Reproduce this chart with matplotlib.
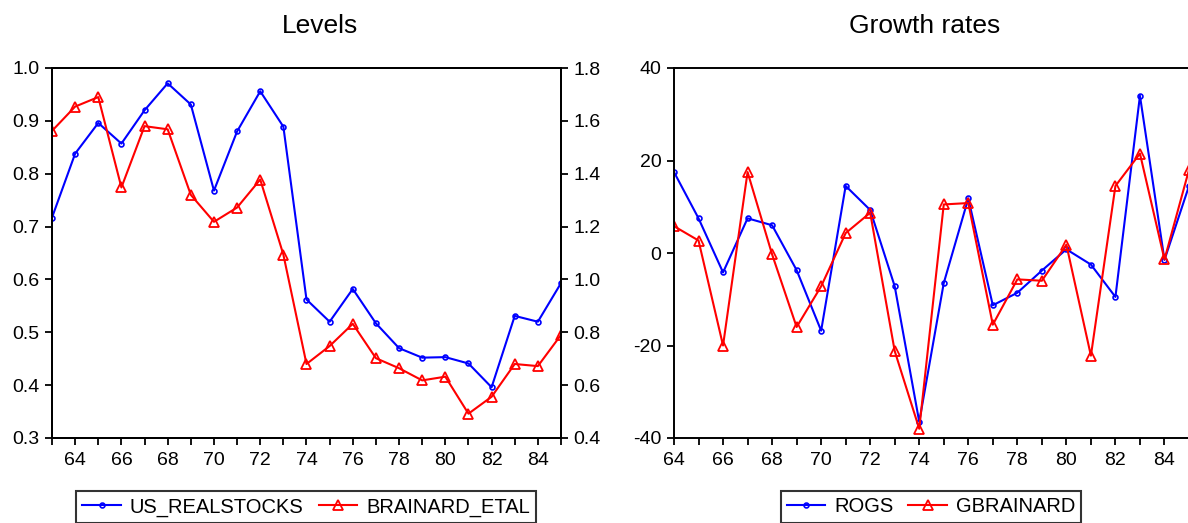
import matplotlib
matplotlib.use("Agg")
import matplotlib.pyplot as plt
from matplotlib.ticker import MultipleLocator

plt.rcParams['font.family'] = ['Liberation Sans', 'DejaVu Sans']
plt.rcParams['axes.unicode_minus'] = False

# Datos: niveles (1963-1985)
years_lvl = list(range(63, 86))
us_realstocks = [0.717, 0.838, 0.896, 0.857, 0.920, 0.971, 0.931, 0.768, 0.880, 0.956,
                 0.889, 0.562, 0.520, 0.582, 0.517, 0.470, 0.452, 0.453, 0.441, 0.396,
                 0.531, 0.520, 0.593]
brainard_etal = [1.562, 1.654, 1.690, 1.348, 1.580, 1.568, 1.320, 1.218, 1.272, 1.378,
                 1.094, 0.680, 0.748, 0.832, 0.702, 0.664, 0.618, 0.632, 0.492, 0.556,
                 0.680, 0.672, 0.790]

# Datos: tasas de crecimiento (1964-1985)
years_gr = list(range(64, 86))
rogs = [17.5, 7.5, -4.2, 7.5, 6.0, -3.7, -16.8, 14.5, 9.3, -7.2, -36.5,
        -6.5, 11.8, -11.3, -8.6, -3.8, 0.8, -2.5, -9.5, 34.0, -1.5, 14.5]
gbrainard = [5.8, 2.7, -20.0, 17.5, -0.3, -16.0, -7.2, 4.3, 8.7, -21.2, -38.0,
             10.5, 10.8, -15.5, -5.7, -6.0, 1.8, -22.2, 14.5, 21.5, -1.4, 18.0]

W, H = 1188, 523
fig = plt.figure(figsize=(W / 100, H / 100), dpi=100)

blue = '#0000ff'
red = '#ff0000'
tick_fs = 14
leg_fs = 14.5


def style_axis(ax):
    for s in ax.spines.values():
        s.set_linewidth(1.4)
    ax.tick_params(axis='both', which='both', direction='out', length=5, width=1.3,
                   labelsize=tick_fs, pad=4)
    ax.tick_params(axis='x', which='major', pad=5)


# GRAFICA 1: niveles
ax1 = fig.add_axes([52 / W, 1 - 438 / H, (561 - 52) / W, 370 / H])
ax2 = ax1.twinx()
l1, = ax1.plot(years_lvl, us_realstocks, color=blue, lw=1.5, marker='o', ms=3.5,
               mfc='none', mew=1.2, label='US_REALSTOCKS')
l2, = ax2.plot(years_lvl, brainard_etal, color=red, lw=1.5, marker='^', ms=6.5,
               mfc='none', mew=1.3, label='BRAINARD_ETAL')
ax1.set_xlim(63, 85)
ax1.set_ylim(0.3, 1.0)
ax2.set_ylim(0.4, 1.8)
ax1.xaxis.set_major_locator(MultipleLocator(2))
ax1.xaxis.set_minor_locator(MultipleLocator(1))
ax1.set_yticks([0.3, 0.4, 0.5, 0.6, 0.7, 0.8, 0.9, 1.0])
ax2.set_yticks([0.4, 0.6, 0.8, 1.0, 1.2, 1.4, 1.6, 1.8])
ax1.set_yticklabels([f'{v:.1f}' for v in ax1.get_yticks()])
ax2.set_yticklabels([f'{v:.1f}' for v in ax2.get_yticks()])
style_axis(ax1)
style_axis(ax2)
ax1.tick_params(axis='x', which='minor', length=5, width=1.3)

fig.text(320 / W, 1 - 33 / H, 'Levels', fontsize=19, ha='center', va='baseline')

leg1 = fig.legend([l1, l2], ['US_REALSTOCKS', 'BRAINARD_ETAL'], loc='center',
                  bbox_to_anchor=(306 / W, 1 - 507 / H), ncol=2, fontsize=leg_fs,
                  frameon=True, fancybox=False, edgecolor='black', borderpad=0.3,
                  handlelength=1.9, handletextpad=0.45, columnspacing=0.75,
                  borderaxespad=0)
leg1.get_frame().set_linewidth(1.5)

# GRAFICA 2: tasas de crecimiento
ax3 = fig.add_axes([674 / W, 1 - 438 / H, (1189 - 674) / W, 370 / H])
l3, = ax3.plot(years_gr, rogs, color=blue, lw=1.5, marker='o', ms=3.5,
               mfc='none', mew=1.2, label='ROGS')
l4, = ax3.plot(years_gr, gbrainard, color=red, lw=1.5, marker='^', ms=6.5,
               mfc='none', mew=1.3, label='GBRAINARD')
ax3.set_xlim(64, 85)
ax3.set_ylim(-40, 40)
ax3.xaxis.set_major_locator(MultipleLocator(2))
ax3.xaxis.set_minor_locator(MultipleLocator(1))
ax3.set_yticks([-40, -20, 0, 20, 40])
ax3.spines['right'].set_visible(False)
style_axis(ax3)
ax3.tick_params(axis='x', which='minor', length=5, width=1.3)
ax3.tick_params(axis='y', right=False)

fig.text(925 / W, 1 - 33 / H, 'Growth rates', fontsize=19, ha='center', va='baseline')

leg2 = fig.legend([l3, l4], ['ROGS', 'GBRAINARD'], loc='center',
                  bbox_to_anchor=(931 / W, 1 - 507 / H), ncol=2, fontsize=leg_fs,
                  frameon=True, fancybox=False, edgecolor='black', borderpad=0.3,
                  handlelength=1.9, handletextpad=0.45, columnspacing=0.75,
                  borderaxespad=0)
leg2.get_frame().set_linewidth(1.5)

fig.savefig('out.png', dpi=100)
